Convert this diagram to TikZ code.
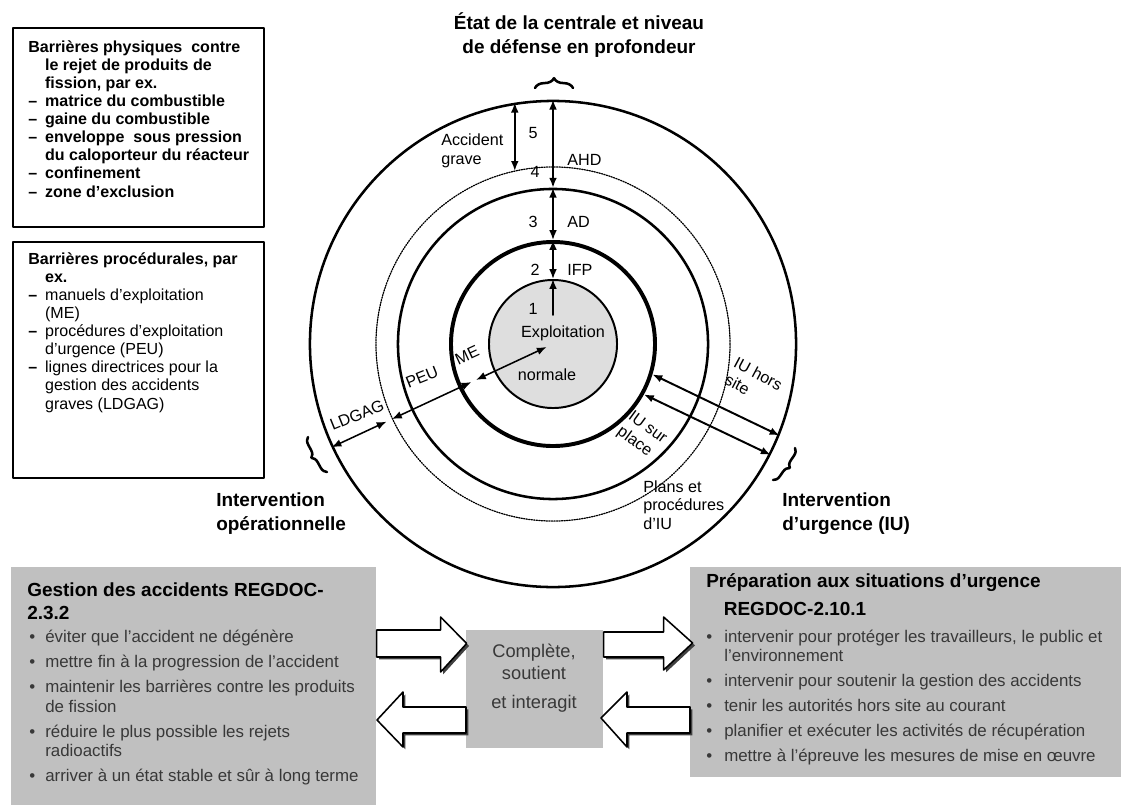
\documentclass[tikz,border=0pt]{standalone}
\usepackage{fontspec}
\setmainfont{Liberation Sans}
\usetikzlibrary{arrows.meta,calc,shadows,decorations.pathreplacing}
\definecolor{boxgray}{HTML}{C0C0C0}
\definecolor{coregray}{HTML}{DEDEDE}
\definecolor{textgray}{HTML}{383838}
\newcommand{\fsz}[2]{\fontsize{#1}{#2}\selectfont}
\begin{document}
\begin{tikzpicture}[x=0.025cm, y=0.025cm, line join=round, line cap=round, >={Latex[length=7pt,width=5.5pt]},
		ring/.style={circle, draw, inner sep=0pt},
		lbl/.style={font=\fsz{11.5}{13.5}, inner sep=0pt},
		head/.style={font=\fsz{13.5}{17}\bfseries, inner sep=0pt},
		linebox/.style={draw, line width=1.4pt, inner sep=0pt},
		graybox/.style={fill=boxgray, inner sep=0pt},
		hollow/.style={draw, fill=white, line width=1.1pt, drop shadow={shadow xshift=0.6mm, shadow yshift=-0.6mm, fill=black!75, opacity=1}},
		curly/.style={decorate, decoration={brace, amplitude=#1}, line width=1.8pt}, curly/.default=5pt]
	\useasboundingbox (0,0) rectangle (1123,-809);
	\fill[white] (0,0) rectangle (1123,-809);
	% cercles
	\coordinate (ctr) at (553,-344);
	\node[ring, line width=1.8pt, minimum size=12.15cm] (outer) at (ctr) {};
	\node[ring, line width=0.9pt, dash pattern=on 0.9pt off 0.9pt, minimum size=8.85cm] (dots) at (ctr) {};
	\node[ring, line width=1.8pt, minimum size=7.75cm] (ad) at (ctr) {};
	\node[ring, line width=2.8pt, minimum size=5.1cm] (ifp) at (ctr) {};
	\node[ring, line width=1.4pt, fill=coregray, minimum size=3.2cm] (core) at (ctr) {};
	\coordinate (c1) at ($(core.north)+(0,-36)$);
	\draw[<->, line width=1.2pt] (outer.north) -- (ad.north);
	\draw[<->, line width=1.2pt] (ad.north) -- (ifp.north);
	\draw[<->, line width=1.2pt] (ifp.north) -- (core.north);
	\draw[->, line width=1.2pt] (c1) -- (core.north);
	\draw[<->, line width=1.2pt] (outer.99) -- (outer.99 |- dots.103);
	\draw[<->, line width=1.1pt] ($(ctr)+(205:7)$) -- ($(ctr)+(205:85)$);
	\draw[<->, line width=1.1pt] ($(ctr)+(205:90)$) -- (dots.205);
	\draw[<->, line width=1.1pt] ($(dots.205)+(205:6)$) -- (outer.205);
	\draw[<->, line width=1.4pt] (ifp.-17) -- (outer.-22.5);
	\draw[<->, line width=1.4pt] (ifp.-29) -- (outer.-27.5);
	\node[lbl] (n5) at (533,-133) {5};
	\node[lbl, align=left, anchor=west] (grave) at (441,-151) {Accident\\grave};
	\node[lbl, anchor=west] (ahd) at (567,-160) {AHD};
	\node[lbl] (n4) at (535,-172) {4};
	\node[lbl] (n3) at (533,-222) {3};
	\node[lbl, anchor=west] (adl) at (567,-222) {AD};
	\node[lbl] (n2) at (535,-270) {2};
	\node[lbl, anchor=west] (ifpl) at (567,-270) {IFP};
	\node[lbl] (n1) at (533,-309) {1};
	\node[lbl] (expl) at (563,-333) {Exploitation};
	\node[lbl] (norm) at (547,-375) {normale};
	\node[lbl, rotate=25] (me) at (467,-355) {ME};
	\node[lbl, rotate=22] (peu) at (422,-377) {PEU};
	\node[lbl, rotate=22] (ldgag) at (357,-415) {LDGAG};
	\node[lbl, rotate=-28, align=left, anchor=north west] (hors) at (738,-356) {IU hors\\site};
	\node[lbl, rotate=-36, align=left, anchor=north west] (surplace) at (634,-409) {IU sur\\place};
	\node[lbl, align=left, anchor=north west] (plans) at (643,-480) {Plans et\\procédures\\d’IU};
	% titres et accolades
	\node[head, align=center] (title) at (579,-35) {État de la centrale et niveau\\de défense en profondeur};
	\draw[curly=7pt] (535,-88) -- (573,-88);
	\draw[curly] (327,-472) -- (308,-437);
	\draw[curly] (795,-448) -- (773,-480);
	\node[head, align=left, anchor=west] (interOp) at (216,-514) {Intervention\\opérationnelle};
	\node[head, align=left, anchor=west] (interUrg) at (782,-514) {Intervention\\d’urgence (IU)};
	% barrières
	\node[linebox, anchor=north west, minimum width=6.275cm, minimum height=4.975cm] (phys) at (12,-27) {};
	\node[anchor=base west, inner sep=0pt, font=\fsz{11.4}{12.9}\bfseries] (physTxt) at (28,-52) {\begin{tabular}[t]{@{}p{12pt}@{}l@{}}
		\multicolumn{2}{@{}l@{}}{Barrières physiques \ contre}\\
		& le rejet de produits de\\
		& fission, par ex.\\
		-- & matrice du combustible\\
		-- & gaine du combustible\\
		-- & enveloppe \ sous pression\\
		& du caloporteur du réacteur\\
		-- & confinement\\
		-- & zone d’exclusion
	\end{tabular}};
	\node[linebox, anchor=north west, minimum width=6.275cm, minimum height=5.9cm] (proc) at (12,-241) {};
	\node[anchor=base west, inner sep=0pt, font=\fsz{11.4}{12.9}] (procTxt) at (28,-264) {\begin{tabular}[t]{@{}p{12pt}@{}l@{}}
		\multicolumn{2}{@{}l@{}}{\bfseries Barrières procédurales, par}\\
		& \bfseries ex.\\
		\bfseries -- & manuels d’exploitation\\
		& (ME)\\
		\bfseries -- & procédures d’exploitation\\
		& d’urgence (PEU)\\
		\bfseries -- & lignes directrices pour la\\
		& gestion des accidents\\
		& graves (LDGAG)
	\end{tabular}};
	% boîtes du bas
	\node[graybox, anchor=north west, minimum width=9.125cm, minimum height=5.95cm] (gestion) at (11,-567) {};
	\node[graybox, anchor=north west, minimum width=3.425cm, minimum height=2.95cm] (mid) at (466,-630) {};
	\node[graybox, anchor=north west, minimum width=10.775cm, minimum height=5.25cm] (prep) at (690,-567) {};
	\node[anchor=base west, inner sep=0pt, text=textgray, font=\fsz{12}{14}] (gestionTxt) at (27,-596) {\begin{tabular}[t]{@{}p{12.8pt}@{}l@{}}
		\multicolumn{2}{@{}l@{}}{\color{black}\fsz{13.5}{14}\bfseries Gestion des accidents REGDOC-}\\[2.5pt]
		\multicolumn{2}{@{}l@{}}{\color{black}\fsz{13.5}{14}\bfseries 2.3.2}\\[2.5pt]
		\hspace{1.5pt}\textbullet & éviter que l'accident ne dégénère\\[3.8pt]
		\hspace{1.5pt}\textbullet & mettre fin à la progression de l’accident\\[3.8pt]
		\hspace{1.5pt}\textbullet & maintenir les barrières contre les produits\\
		& de fission\\[3.8pt]
		\hspace{1.5pt}\textbullet & réduire le plus possible les rejets\\
		& radioactifs\\[3.8pt]
		\hspace{1.5pt}\textbullet & arriver à un état stable et sûr à long terme
	\end{tabular}};
	\node[font=\fsz{13}{15.6}, text=textgray, align=center, inner sep=0pt] (midTxt) at (534,-678) {Complète,\\soutient\\[5pt]et interagit};
	\node[anchor=base west, inner sep=0pt, text=textgray, font=\fsz{12}{14}] (prepTxt) at (706,-587) {\begin{tabular}[t]{@{}p{12.8pt}@{}l@{}}
		\multicolumn{2}{@{}l@{}}{\color{black}\fsz{13.5}{14}\bfseries Préparation aux situations d’urgence}\\[6pt]
		\multicolumn{2}{@{}l@{}}{\color{black}\fsz{13.5}{14}\bfseries \hspace{12.5pt}REGDOC-2.10.1}\\[5.2pt]
		\textbullet & intervenir pour protéger les travailleurs, le public et\\
		& l’environnement\\[3.8pt]
		\textbullet & intervenir pour soutenir la gestion des accidents\\[3.8pt]
		\textbullet & tenir les autorités hors site au courant\\[3.8pt]
		\textbullet & planifier et exécuter les activités de récupération\\[3.8pt]
		\textbullet & mettre à l’épreuve les mesures de mise en œuvre
	\end{tabular}};
	% flèches creuses
	\draw[hollow] (gestion.north east) ++(0,-63) -- ++(64,0) -- ++(0,13) -- ++(26,-26.5) -- ++(-26,-28.5) -- ++(0,15) -- ++(-64,0) -- cycle;
	\draw[hollow] (mid.north west) ++(0,-77) -- ++(-63,0) -- ++(0,15) -- ++(-26,-28) -- ++(26,-27) -- ++(0,14) -- ++(63,0) -- cycle;
	\draw[hollow] (mid.north east) ++(0,-2) -- ++(60,0) -- ++(0,15) -- ++(29,-26) -- ++(-29,-27) -- ++(0,13) -- ++(-60,0) -- cycle;
	\draw[hollow] (prep.north west) ++(0,-140) -- ++(-63,0) -- ++(0,15) -- ++(-26,-26) -- ++(26,-29) -- ++(0,14) -- ++(63,0) -- cycle;
\end{tikzpicture}
\end{document}
